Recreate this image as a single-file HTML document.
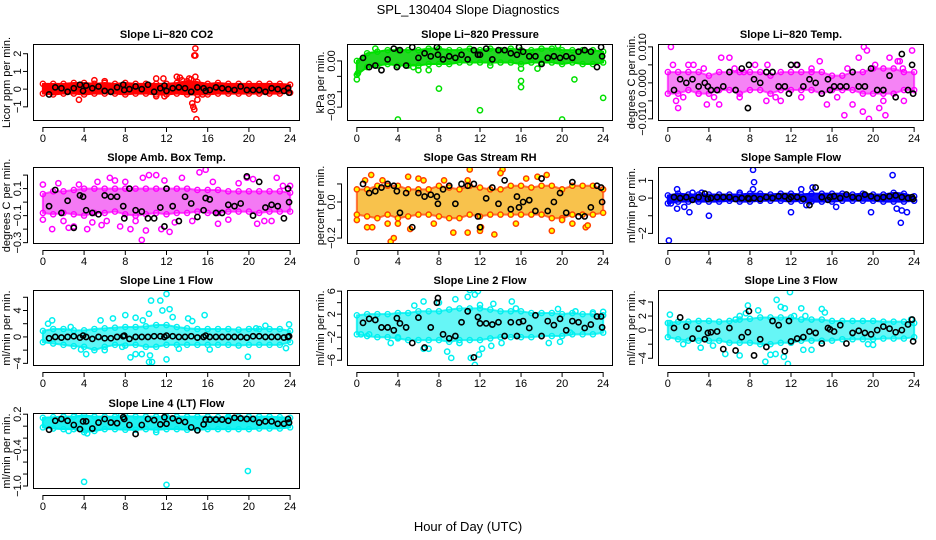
<!DOCTYPE html>
<html><head><meta charset="utf-8"><style>
html,body{margin:0;padding:0;background:#fff;}
svg{display:block;font-family:"Liberation Sans",sans-serif;}
.t{font-size:11px;font-weight:bold;text-anchor:middle;}
.tk{font-size:11px;text-anchor:middle;}
</style></head><body>
<svg id="chart" width="936" height="540" viewBox="0 0 936 540" xmlns="http://www.w3.org/2000/svg">
<text x="468" y="14" font-size="13" text-anchor="middle">SPL_130404  Slope Diagnostics</text>
<text x="468" y="531" font-size="13" text-anchor="middle">Hour of Day (UTC)</text>
</svg>
<script>
// shared categories
const hours = [0,1,2,3,4,5,6,7,8,9,10,11,12,13,14,15,16,17,18,19,20,21,22,23,24];
const blackTimes = [0.6,1.2,1.8,2.4,3,3.6,3.9,4.2,4.8,5.4,6,6.6,7.2,7.8,7.9,8.4,9,9.6,10.2,10.8,11.4,11.8,12,12.6,13.2,13.8,14.4,15,15.6,15.8,16.2,16.8,17.4,18,18.6,19.2,19.8,20.4,21,21.6,22.2,22.8,23.4,23.8,23.9];
const xTicks = [0,4,8,12,16,20,24];

// Panel 1: CO2
const co2Lo = [-0.25,-0.3,-0.25,-0.25,-0.3,-0.25,-0.25,-0.25,-0.3,-0.25,-0.25,-0.3,-0.3,-0.25,-0.3,-0.3,-0.3,-0.25,-0.25,-0.25,-0.25,-0.25,-0.25,-0.25,-0.2];
const co2Hi = [0.3,0.3,0.3,0.35,0.35,0.3,0.35,0.3,0.35,0.3,0.3,0.3,0.3,0.35,0.45,0.4,0.3,0.35,0.3,0.3,0.3,0.3,0.3,0.3,0.25];
const co2OutT = [3.5,5,6,11,11.7,11,11.8,13,13.3,13.5,14.2,14.5,14.6,14.7,14.8,14.8,14.9,15,14.7,14.4,14.8,15.5];
const co2OutV = [-0.6,0.5,0.45,0.6,0.6,-0.4,-0.4,0.7,0.65,0.5,0.6,-0.8,-1.0,1.9,2.3,1.9,-1.7,-0.6,-1.15,0.55,0.7,-0.3];
const co2Black = [-0.3,0.1,0.05,-0.15,0.05,0.25,-0.1,0.2,0.05,0.15,-0.1,-0.15,0.1,0.25,-0.05,0,0.15,0,0.25,-0.15,0.05,0.2,-0.1,0.05,0.1,0.05,-0.15,0.1,0.05,-0.1,-0.05,0.1,0.05,0,-0.05,0.15,-0.05,-0.05,-0.05,-0.15,0.05,0,-0.1,0.05,-0.2];
const co2Ticks = [-1,0,1,2];
const co2Labels = ['\u22121','0','1','2'];

// Panel 2: Pressure
const presLo = [-0.009,-0.004,-0.003,-0.002,-0.003,-0.003,-0.003,-0.002,-0.002,-0.002,-0.001,-0.001,-0.001,-0.001,-0.001,-0.001,-0.002,-0.001,-0.001,-0.001,-0.002,-0.001,-0.002,-0.002,-0.001];
const presHi = [0.0,0.005,0.006,0.007,0.007,0.007,0.007,0.008,0.008,0.007,0.007,0.008,0.007,0.008,0.007,0.008,0.007,0.007,0.008,0.008,0.007,0.007,0.007,0.007,0.006];
const presOutT = [0,0.1,4,8,12,16,16,16,17.6,20,21.2,24,19.6,5.5,6,7,13,1.8];
const presOutV = [-0.012,-0.008,-0.038,-0.018,-0.032,-0.017,-0.013,-0.005,-0.005,-0.038,-0.012,-0.024,0.01,-0.004,-0.006,-0.006,-0.003,0.008];
const presBlack = [0.002,-0.004,-0.003,-0.006,0.001,0.008,-0.004,0.007,-0.003,0.009,0.002,0.005,0.003,0.009,0.004,0.001,0.003,0.002,0.004,0.001,0.007,0.004,0.004,0.008,0.001,0.007,0.007,0.005,0.004,0.009,0.006,0.003,0.003,-0.002,0.002,0.003,0.002,0.003,0.002,0.006,0.007,0.006,-0.004,0.009,0.003];
const presTicks = [-0.03,-0.02,-0.01,0];
const presLabels = ['\u22120.03','','','0.00'];

// Panel 3: Li-820 Temp
const tempLo = [-0.003,-0.003,-0.002,-0.003,-0.003,-0.002,-0.002,-0.003,-0.002,-0.002,-0.003,-0.002,-0.002,-0.002,-0.002,-0.003,-0.002,-0.002,-0.002,-0.003,-0.003,-0.003,-0.003,-0.002,-0.002];
const tempHi = [0.003,0.003,0.003,0.003,0.002,0.003,0.003,0.003,0.003,0.003,0.002,0.003,0.003,0.003,0.003,0.003,0.002,0.002,0.003,0.003,0.004,0.004,0.004,0.003,0.003];
const tempOutT = [0.3,5.2,6,7.4,9.7,0.8,1,3.8,5,9.6,11,15.5,17.2,18,19,19.6,19.1,19.4,20.6,21.2,21.6,22.4,22.6,23.8,22.9,14.8,3,18.6,2,12.5,0.5,1.5,2.5,3.5,4.5,6.5,7,8.5,10.5,13,14,16.5,17.5,20.2,21,23];
const tempOutV = [0.01,0.007,0.007,0.003,0.005,-0.005,-0.007,-0.006,-0.006,-0.005,-0.005,-0.006,-0.009,-0.006,-0.008,-0.01,0.01,0.009,-0.007,-0.009,0.007,0.006,0.006,0.009,0.004,0.006,-0.003,0.007,0.005,0.005,0.005,-0.004,0.005,0.004,-0.004,0.004,-0.004,0.005,-0.004,-0.004,0.004,-0.004,0.004,0.005,-0.005,-0.005];
const tempBlack = [-0.002,0.001,0.0,0.001,-0.001,0.0,-0.001,-0.002,-0.002,-0.001,0.003,-0.002,0.004,-0.007,0.005,0.001,0.0,0.003,0.003,-0.001,-0.001,-0.003,0.005,0.005,-0.001,0.001,0.0,-0.003,0.001,-0.002,-0.001,-0.001,-0.001,0.003,-0.001,-0.001,0.004,-0.002,-0.002,0.002,-0.004,0.008,-0.002,0.005,-0.003];
const tempTicks = [-0.01,-0.005,0,0.005,0.01];
const tempLabels = ['\u22120.010','','0.000','','0.010'];

// Panel 4: Amb. Box Temp
const ambLo = [-0.08,-0.09,-0.08,-0.09,-0.1,-0.08,-0.08,-0.07,-0.09,-0.1,-0.09,-0.08,-0.09,-0.08,-0.08,-0.07,-0.08,-0.08,-0.07,-0.07,-0.07,-0.08,-0.07,-0.07,-0.07];
const ambHi = [0.06,0.08,0.08,0.09,0.1,0.1,0.1,0.1,0.1,0.1,0.1,0.1,0.1,0.1,0.1,0.09,0.09,0.09,0.08,0.08,0.08,0.08,0.08,0.08,0.07];
const ambOutT = [0,0.9,2.5,4.3,9.6,10,12.3,11.5,7.5,8.5,15.2,15.8,19.8,20.4,22.7,9.7,10.3,11,0,3,5.7,17,20.8,22.2,13.5,6.5,1.5,2,3.5,4.8,5.3,6.2,7,8,9,11.8,12.8,14.5,16.5,18,19,21.5,23.3,24];
const ambOutV = [-0.13,-0.2,-0.19,-0.2,-0.28,-0.21,-0.22,-0.2,-0.18,-0.2,0.22,0.24,0.18,0.17,0.18,0.18,0.2,0.2,0.13,-0.18,-0.17,-0.16,-0.16,-0.14,0.18,0.18,0.14,-0.14,0.13,-0.15,0.15,-0.14,0.16,0.15,-0.14,0.16,-0.15,-0.14,0.15,-0.13,0.14,-0.14,0.12,0.12];
const ambBlack = [-0.03,0.09,-0.08,0.01,-0.19,0.05,0.04,-0.06,-0.08,-0.09,0.05,0.04,0.04,-0.03,-0.12,0.1,-0.06,-0.07,-0.12,-0.12,-0.04,-0.18,0.1,-0.03,-0.14,0.04,-0.01,-0.11,-0.06,0.03,0.02,-0.08,-0.08,-0.02,-0.03,-0.01,0.19,-0.1,0.15,-0.04,-0.02,-0.03,-0.12,0.1,0.0];
const ambTicks = [-0.3,-0.2,-0.1,0,0.1,0.2];
const ambLabels = ['\u22120.3','','\u22120.1','','0.1',''];

// Panel 5: Gas Stream RH
const rhLo = [-0.07,-0.08,-0.09,-0.07,-0.09,-0.08,-0.07,-0.07,-0.08,-0.09,-0.09,-0.07,-0.08,-0.07,-0.07,-0.07,-0.07,-0.07,-0.07,-0.09,-0.09,-0.07,-0.07,-0.07,-0.06];
const rhHi = [0.07,0.07,0.09,0.09,0.09,0.07,0.07,0.07,0.09,0.08,0.07,0.09,0.08,0.07,0.07,0.09,0.09,0.08,0.09,0.09,0.07,0.09,0.09,0.09,0.07];
const rhOutT = [0,1,1.5,3.3,3.6,4,5.2,5,6.5,9.4,10.8,11,10.8,12,12.1,13.4,14.2,14,19,20,22.3,22.5,17.6,18.5,1.4,0.8,2.5,3,6,7.5,8.5,15.5,16.5,21];
const rhOutV = [-0.1,-0.14,-0.14,-0.22,-0.2,-0.12,-0.15,0.14,0.12,-0.17,-0.17,0.18,0.12,-0.16,-0.14,-0.18,0.18,0.16,-0.16,-0.1,-0.14,-0.13,0.14,0.15,0.15,0.12,0.12,-0.12,0.13,-0.12,0.12,-0.12,0.13,-0.12];
const rhBlack = [0.1,0.05,0.06,0.08,0.1,0.09,0.06,-0.06,0.05,-0.14,0.05,0.03,0.04,0.03,-0.01,0.07,0.09,-0.01,0.1,0.09,0.1,-0.08,-0.14,0.02,0.08,-0.01,0.12,-0.04,0.03,-0.03,0.0,0.01,-0.05,0.13,-0.05,0.0,0.05,-0.06,0.11,-0.08,-0.08,-0.03,0.09,0.08,0.0];
const rhTicks = [-0.2,-0.1,0,0.1];
const rhLabels = ['\u22120.2','','0.0',''];

// Panel 6: Sample Flow
const sfLo = [-0.3,-0.2,-0.2,-0.2,-0.2,-0.2,-0.15,-0.2,-0.2,-0.15,-0.15,-0.15,-0.2,-0.15,-0.2,-0.2,-0.2,-0.15,-0.15,-0.15,-0.15,-0.2,-0.2,-0.2,-0.15];
const sfHi = [0.15,0.25,0.2,0.2,0.2,0.2,0.2,0.2,0.25,0.25,0.2,0.25,0.25,0.2,0.25,0.25,0.25,0.25,0.2,0.25,0.2,0.2,0.3,0.25,0.1];
const sfOutT = [0.1,0.3,0.9,0.9,1.6,2.1,4,8.3,8.4,8.3,12,13.5,14.1,16.4,19.8,21.9,22.7,22.3,23.3,22.8,13,2.4,3.3,7];
const sfOutV = [-2.4,-0.3,0.5,-0.6,-0.5,-0.8,-1.0,1.6,0.9,0.5,-0.8,-0.4,0.6,-0.5,-0.8,1.3,-1.4,-0.6,-0.8,-0.7,0.5,0.3,0.3,0.3];
const sfBlack = [0.05,0.0,0.05,-0.1,0.05,0.25,-0.05,0.0,0.05,0.05,0.05,-0.05,0.0,0.0,-0.05,0.0,-0.05,0.05,0.0,0.1,0.1,-0.05,0.05,0.05,-0.05,-0.4,0.6,0.05,-0.1,0.05,0.1,0.0,0.2,0.05,0.0,0.2,0.1,0.0,0.05,0.1,0.15,0.05,0.0,0.05,-0.05];
const sfTicks = [-2,-1,0,1];
const sfLabels = ['\u22122','','0','1'];

// Panel 7: Line 1 Flow
const l1Lo = [-0.8,-1,-1.2,-1.4,-1.5,-2,-1.5,-1.2,-1.3,-1.2,-1.5,-1.5,-1.2,-1.2,-1.2,-1.2,-1.2,-1.2,-1.2,-1.3,-1.2,-1.2,-1.2,-1.2,-0.8];
const l1Hi = [0.9,1.2,1.2,1.0,1.0,1.2,1.3,1.4,1.5,1.5,1.6,1.8,1.8,1.5,1.3,1.2,1.2,1.2,1.2,1.1,1.2,1.2,1.2,1.2,0.9];
const l1OutT = [10.5,11.4,12,11.6,12.3,10.3,8,6.8,9,5.6,15.7,14.1,14.5,12.6,9.7,3.7,4.2,8.5,9,9.6,10.3,10.6,10.4,12,19.9,6,7.7,13.2,16.2,20.7,21.6,23.9,23.6,0.9,0.5,2.7];
const l1OutV = [5.5,5.5,6.5,4,4.2,3.5,3.3,2.8,2.9,2.5,3.3,2.8,2.4,3,2.5,-1.9,-2.6,-3.1,-2.6,-2.6,-3.8,-3.8,-2.8,-3.4,-3,-2,-1.5,-1.8,-1.9,1.3,1.7,1.9,-1.7,2.5,2,1.5];
const l1Black = [-0.2,0.0,-0.1,0.0,0.1,-0.1,0.2,0.0,-0.3,0.0,-0.2,-0.2,0.0,0.1,0.2,-0.3,0.0,0.0,0.0,0.1,0.1,0.0,0.2,0.1,0.0,0.0,0.1,-0.1,0.0,0.2,0.0,0.0,0.0,0.0,0.0,0.0,-0.1,0.1,0.1,0.0,0.0,0.0,-0.1,0.0,0.1];
const l1Ticks = [-4,-2,0,2,4,6];
const l1Labels = ['\u22124','','0','','4',''];

// Panel 8: Line 2 Flow
const l2Lo = [-1.5,-1.8,-2,-2,-2.2,-2.5,-2.5,-2.5,-2.5,-2.8,-2.5,-2.5,-2.5,-2.2,-2,-2,-2,-2,-1.8,-1.8,-1.8,-1.5,-1.5,-1.5,-1.2];
const l2Hi = [1.8,2,2,2,2.2,2.2,2.5,2.5,2.5,2.8,3,3,3,2.8,2.5,2.5,2.5,2.2,2.2,2.2,2,2.2,2,2,1.8];
const l2OutT = [11,11.8,11.5,10.8,9.6,6.5,5.6,13.3,15.1,15.5,19.6,12,8,3.3,4,6.5,7,8.8,9.2,10,11.1,11.9,11.5,12.2,13.1,14.1,18.7,19.8,20.8,21.3,23,24,0.4,1.2];
const l2OutV = [6.2,6,5.4,5,4.6,4.2,3.5,3.8,4.2,3,2.9,3.6,4,-3,-2,-4,-4,-4.5,-5.6,-3,-5.6,-5,-6.8,-4,-3.5,-3,-3,-2.8,-1.2,2.5,2.3,2.4,-1.5,-1.5];
const l2Black = [0.5,1.2,1,-0.3,-0.3,-0.8,1.3,0.4,-0.3,-3,1.4,-3.8,-0.3,4,4.8,-1.5,-2.2,-1.8,0.6,2.5,-5.5,1.5,0.4,0.4,0.2,0.6,-1.8,0.6,-1.8,0.6,0.8,-0.4,1.8,-1.8,0.8,0.1,1.2,-0.8,0.8,0.6,-0.4,0.2,1.6,1.6,-0.3];
const l2Ticks = [-6,-4,-2,0,2,4,6];
const l2Labels = ['\u22126','','\u22122','','2','','6'];

// Panel 9: Line 3 Flow
const l3Lo = [-1,-1.3,-1.5,-1.5,-1.5,-1.5,-1.8,-1.8,-1.8,-2,-2,-1.8,-1.8,-1.5,-1.5,-1.5,-1.5,-1.3,-1.3,-1.3,-1.3,-1.2,-1.2,-1.2,-1];
const l3Hi = [1,1.2,1.2,1.3,1.3,1.2,1.3,1.5,1.6,1.8,1.8,1.8,1.8,1.5,1.5,1.5,1.3,1.3,1.3,1.3,1.3,1.2,1.2,1.2,1];
const l3OutT = [0.2,0.2,1.5,3.2,4.4,5.6,7,7.6,7.8,8.8,9.5,10,10.5,11.3,11.7,11.9,10.6,11,11.4,12.3,13,13.4,15,15.3,13.2,14,19.5,20,23.7,7,6.6];
const l3OutV = [2.2,1,-2,-2.5,-2.2,-3.4,-3.6,2.4,3.5,2.8,-4.5,-3.5,-3.4,-3.8,-4.8,5.4,4.3,3.3,3.1,2,3.1,2,3,2.5,-2.8,-2.8,-2,-2.1,1.5,2,1.5];
const l3Black = [0.3,1.8,0.5,-1.2,0.2,-1.3,-0.4,-0.3,-0.2,-2.7,0.3,-2.9,-1,-0.3,2.7,-3.6,-1.3,-2.4,1.3,0.7,-3,1.3,-1.6,-1.2,-1,-0.2,-0.4,-1.9,0.3,0.1,-0.2,0.7,-1.9,-0.4,-0.1,-0.4,-0.6,0,0.5,0.2,-0.3,0,0.8,1.5,-1.6];
const l3Ticks = [-4,-2,0,2,4];
const l3Labels = ['\u22124','','0','2','4'];

// Panel 10: Line 4 (LT) Flow
const l4Lo = [-0.02,-0.04,-0.05,-0.05,-0.1,-0.08,-0.05,-0.05,-0.06,-0.06,-0.05,-0.06,-0.05,-0.05,-0.06,-0.06,-0.05,-0.05,-0.05,-0.05,-0.05,-0.04,-0.04,-0.04,-0.02];
const l4Hi = [0.14,0.15,0.16,0.16,0.18,0.16,0.16,0.16,0.17,0.16,0.16,0.16,0.16,0.16,0.16,0.16,0.16,0.15,0.16,0.16,0.16,0.16,0.16,0.15,0.14];
const l4OutT = [4,12,19.9,3.5,4.3,7.6,18,11,2.5];
const l4OutV = [-0.93,-0.98,-0.75,0.2,-0.12,0.18,0.15,-0.1,-0.08];
const l4Black = [-0.06,0.09,0.12,0.09,0.02,-0.05,0.08,0.08,-0.04,0.06,0.12,0.06,0.05,0.15,0.12,0.02,-0.13,0.02,0.12,0.1,0.03,0.15,0.04,0.13,0.09,0.07,-0.02,-0.07,0.03,0.11,0.11,0.11,0.11,0.09,0.14,0.13,0.12,0.12,0.06,0.08,0.08,0.04,0.04,0.12,0.06];
const l4Ticks = [-1,-0.8,-0.6,-0.4,-0.2,0,0.2];
const l4Labels = ['\u22121.0','','','\u22120.4','','','0.2'];

// ---- layout (not data) ----
const cols = [[33,300],[347,613],[658,924]];
const rows = [[44,121],[167,244],[290,366],[413,489]];
const panels = [
 {name:'co2',title:'Slope Li\u2212820 CO2',ylab:'Licor ppm per min.',c:0,r:0,dom:[-1.8,2.55],lo:co2Lo,hi:co2Hi,ot:co2OutT,ov:co2OutV,bk:co2Black,ticks:co2Ticks,labels:co2Labels,col:'#ff0000',band:'#ff0000',fill:'none',op:1},
 {name:'pressure',title:'Slope Li\u2212820 Pressure',ylab:'kPa per min.',c:1,r:0,dom:[-0.039,0.011],lo:presLo,hi:presHi,ot:presOutT,ov:presOutV,bk:presBlack,ticks:presTicks,labels:presLabels,col:'#00e000',band:'#22d822',fill:'none',op:1},
 {name:'li820-temp',title:'Slope Li\u2212820 Temp.',ylab:'degrees C per min.',c:2,r:0,dom:[-0.0106,0.0108],lo:tempLo,hi:tempHi,ot:tempOutT,ov:tempOutV,bk:tempBlack,ticks:tempTicks,labels:tempLabels,col:'#ff00ff',band:'#f040f0',fill:'none',op:0.65},
 {name:'amb-box-temp',title:'Slope Amb. Box Temp.',ylab:'degrees C per min.',c:0,r:1,dom:[-0.31,0.26],lo:ambLo,hi:ambHi,ot:ambOutT,ov:ambOutV,bk:ambBlack,ticks:ambTicks,labels:ambLabels,col:'#ff00ff',band:'#f040f0',fill:'none',op:0.7},
 {name:'gas-stream-rh',title:'Slope Gas Stream RH',ylab:'percent per min.',c:1,r:1,dom:[-0.233,0.194],lo:rhLo,hi:rhHi,ot:rhOutT,ov:rhOutV,bk:rhBlack,ticks:rhTicks,labels:rhLabels,col:'#ff4000',band:'#f5a800',fill:'#ffff00',op:0.7},
 {name:'sample-flow',title:'Slope Sample Flow',ylab:'ml/min per min.',c:2,r:1,dom:[-2.6,1.76],lo:sfLo,hi:sfHi,ot:sfOutT,ov:sfOutV,bk:sfBlack,ticks:sfTicks,labels:sfLabels,col:'#0000ff',band:'#1010f0',fill:'none',op:1},
 {name:'line1-flow',title:'Slope Line 1 Flow',ylab:'ml/min per min.',c:0,r:2,dom:[-4.4,7.1],lo:l1Lo,hi:l1Hi,ot:l1OutT,ov:l1OutV,bk:l1Black,ticks:l1Ticks,labels:l1Labels,col:'#00f0f0',band:'#40f4f4',fill:'none',op:0.85},
 {name:'line2-flow',title:'Slope Line 2 Flow',ylab:'ml/min per min.',c:1,r:2,dom:[-7,6.2],lo:l2Lo,hi:l2Hi,ot:l2OutT,ov:l2OutV,bk:l2Black,ticks:l2Ticks,labels:l2Labels,col:'#00f0f0',band:'#40f4f4',fill:'none',op:0.8},
 {name:'line3-flow',title:'Slope Line 3 Flow',ylab:'ml/min per min.',c:2,r:2,dom:[-5.1,5.7],lo:l3Lo,hi:l3Hi,ot:l3OutT,ov:l3OutV,bk:l3Black,ticks:l3Ticks,labels:l3Labels,col:'#00f0f0',band:'#40f4f4',fill:'none',op:0.8},
 {name:'line4-flow',title:'Slope Line 4 (LT) Flow',ylab:'ml/min per min.',c:0,r:3,dom:[-1.05,0.22],lo:l4Lo,hi:l4Hi,ot:l4OutT,ov:l4OutV,bk:l4Black,ticks:l4Ticks,labels:l4Labels,col:'#00f0f0',band:'#20f0f0',fill:'none',op:1}
];
const NS='http://www.w3.org/2000/svg';
const svg=document.getElementById('chart');
function mk(tag,attrs,parent){const e=document.createElementNS(NS,tag);for(const k in attrs)e.setAttribute(k,attrs[k]);(parent||svg).appendChild(e);return e;}
const XD=[-0.96,24.96];
panels.forEach(p=>{
  const [L,R]=cols[p.c],[T,B]=rows[p.r];
  const xs=v=>L+(v-XD[0])/(XD[1]-XD[0])*(R-L);
  const ys=v=>B-(v-p.dom[0])/(p.dom[1]-p.dom[0])*(B-T);
  const g=mk('g',{});
  
  
  const title=mk('text',{x:(L+R)/2,y:T-6,class:'t'},g);title.textContent=p.title;
  
  
  const yl=mk('text',{x:0,y:0,class:'tk',transform:`translate(${L-23},${(T+B)/2}) rotate(-90)`,'font-size':'10.5'},g);yl.textContent=p.ylab;
  
  
  const cid='clip-'+p.name;
  const cp=mk('clipPath',{id:cid},g);mk('rect',{x:L,y:T,width:R-L,height:B-T},cp);
  const plot=mk('g',{'clip-path':`url(#${cid})`},g);
  let pts=hours.map((h,i)=>xs(h)+','+ys(p.hi[i]));
  pts=pts.concat(hours.map((h,i)=>xs(h)+','+ys(p.lo[i])).reverse());
  const band=mk('polygon',{points:pts.join(' '),fill:p.band,'fill-opacity':p.op,stroke:p.col,'stroke-opacity':p.op,'stroke-width':2,'stroke-linejoin':'round'},plot);
  
  
  hours.forEach((h,i)=>{
    [p.hi[i],p.lo[i]].forEach(v=>{
      const c=mk('circle',{cx:xs(h),cy:ys(v),r:2.6,fill:p.fill,stroke:p.col,'stroke-width':1.4},plot);
      
      
    });
  });
  p.ot.forEach((t,i)=>{
    const c=mk('circle',{cx:xs(t),cy:ys(p.ov[i]),r:2.6,fill:p.fill,stroke:p.col,'stroke-width':1.5},plot);
    
    
  });
  blackTimes.forEach((t,i)=>{
    const c=mk('circle',{cx:xs(t),cy:ys(p.bk[i]),r:2.6,fill:'none',stroke:'#000','stroke-width':1.6},plot);
    
    
  });
  mk('rect',{x:L+0.5,y:T+0.5,width:R-L-1,height:B-T-1,fill:'none',stroke:'#000','stroke-width':1},g);
  mk('line',{x1:xs(0),x2:xs(24),y1:B+6.5,y2:B+6.5,stroke:'#000'},g);
  xTicks.forEach(t=>{
    mk('line',{x1:xs(t),x2:xs(t),y1:B+6,y2:B+11,stroke:'#000'},g);
    const tx=mk('text',{x:xs(t),y:B+21,class:'tk'},g);tx.textContent=t;
    
    
  });
  const tmin=Math.min(...p.ticks),tmax=Math.max(...p.ticks);
  mk('line',{x1:L-5.5,x2:L-5.5,y1:ys(tmin),y2:ys(tmax),stroke:'#000'},g);
  p.ticks.forEach((t,i)=>{
    mk('line',{x1:L-10,x2:L-5,y1:ys(t),y2:ys(t),stroke:'#000'},g);
    if(p.labels[i]){
      const tx=mk('text',{x:0,y:0,class:'tk',transform:`translate(${L-12},${ys(t)}) rotate(-90)`},g);tx.textContent=p.labels[i];
      
      
    }
  });
});
</script>
</body></html>
